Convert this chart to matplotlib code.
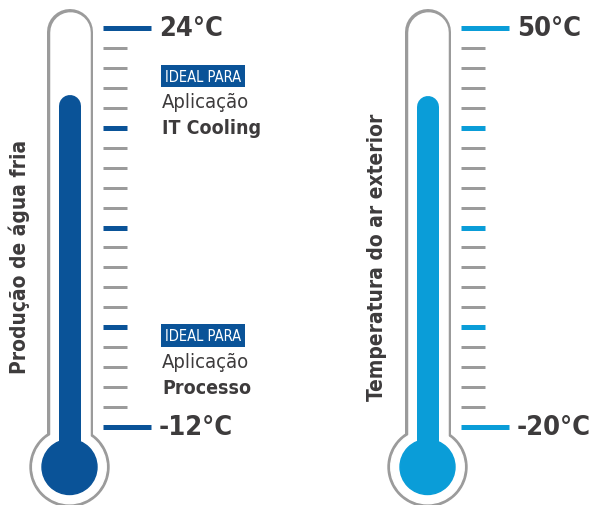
import matplotlib
matplotlib.use("Agg")
import matplotlib.pyplot as plt
from matplotlib.patches import Ellipse
import numpy as np

plt.rcParams['font.family'] = ['DejaVu Sans']
plt.rcParams['font.stretch'] = 'condensed'

# thermometer data
titles = ["Produção de água fria", "Temperatura do ar exterior"]
temp_max = [24, 50]
temp_min = [-12, -20]
fill_level = [18, 38]
n_ticks = 21
colors = ["#0a5398", "#0a9dd8"]

# "ideal para" notes on the left thermometer (value of the bold line)
note_values = [15, -8.4]
note_names = ["IT Cooling", "Processo"]

GRAY = "#9b9b9b"
TEXT = "#3d3b3c"
W, H = 592, 506
PX = 0.72  # points per pixel at dpi 100

fig = plt.figure(figsize=(W / 100, H / 100), dpi=100)

# pixel offset of each thermometer
offsets = [0, 358]
top_px, bot_px = 29, 428


def draw_thermo(k):
    x0 = offsets[k]
    ax = fig.add_axes([0, 0, 1, 1])
    ax.set_xlim(-x0, W - x0)
    hi, lo = temp_max[k], temp_min[k]
    s = (hi - lo) / (bot_px - top_px)  # degrees per pixel
    ax.set_ylim(lo - (H - bot_px) * s, hi + top_px * s)
    ax.axis("off")
    ax.patch.set_alpha(0)

    cx = 69.5
    bulb_y = lo - (468 - bot_px) * s
    tube_top = hi + 19 * s - 23 * s

    # outer tube + bulb (gray then white to make the outline)
    ax.plot([cx, cx], [bulb_y, tube_top], color=GRAY, lw=46 * PX,
            solid_capstyle="round", zorder=1)
    ax.add_patch(Ellipse((cx, bulb_y), 79, 79 * s, color=GRAY, zorder=1))
    ax.plot([cx, cx], [bulb_y, tube_top], color="white", lw=40.5 * PX,
            solid_capstyle="round", zorder=2)
    ax.add_patch(Ellipse((cx, bulb_y), 73.5, 73.5 * s, color="white", zorder=2))

    # liquid column
    ax.plot([cx, cx], [bulb_y, fill_level[k] - 11 * s], color=colors[k],
            lw=22 * PX, solid_capstyle="round", zorder=3)
    ax.add_patch(Ellipse((cx, bulb_y), 55, 55 * s, color=colors[k], zorder=3))

    # scale ticks
    vals = np.linspace(hi, lo, n_ticks)
    for i, v in enumerate(vals):
        if i in (0, n_ticks - 1):
            ax.plot([103, 151], [v, v], color=colors[k], lw=5 * PX,
                    solid_capstyle="butt")
        elif i % 5 == 0:
            ax.plot([103, 127], [v, v], color=colors[k], lw=5 * PX,
                    solid_capstyle="butt")
        else:
            ax.plot([103, 127], [v, v], color=GRAY, lw=3 * PX,
                    solid_capstyle="butt")

    for v in (hi, lo):
        ax.text(159, v, f"{v}°C", fontsize=19.5, fontweight="bold", color=TEXT,
                ha="left", va="center")

    ax.text(19, (hi + lo) / 2 - (257 - (top_px + bot_px) / 2) * s,
            titles[k], rotation=90, fontsize=15, fontweight="bold",
            color=TEXT, ha="center", va="center")
    return ax


axL = draw_thermo(0)
draw_thermo(1)

for v, name in zip(note_values, note_names):
    axL.annotate(name, (162, v), fontsize=14, fontweight="bold", color=TEXT,
                 ha="left", va="center")
    axL.annotate("Aplicação", (162, v), xytext=(0, 26 * PX), textcoords="offset points",
                 fontsize=14.5, color=TEXT, ha="left", va="center")
    axL.annotate("IDEAL PARA", (165, v), xytext=(0, 51.5 * PX), textcoords="offset points",
                 fontsize=10.5, color="white", ha="left", va="center",
                 bbox=dict(boxstyle="square,pad=0.25", fc=colors[0], ec="none"))

fig.savefig("out.png", dpi=100)
